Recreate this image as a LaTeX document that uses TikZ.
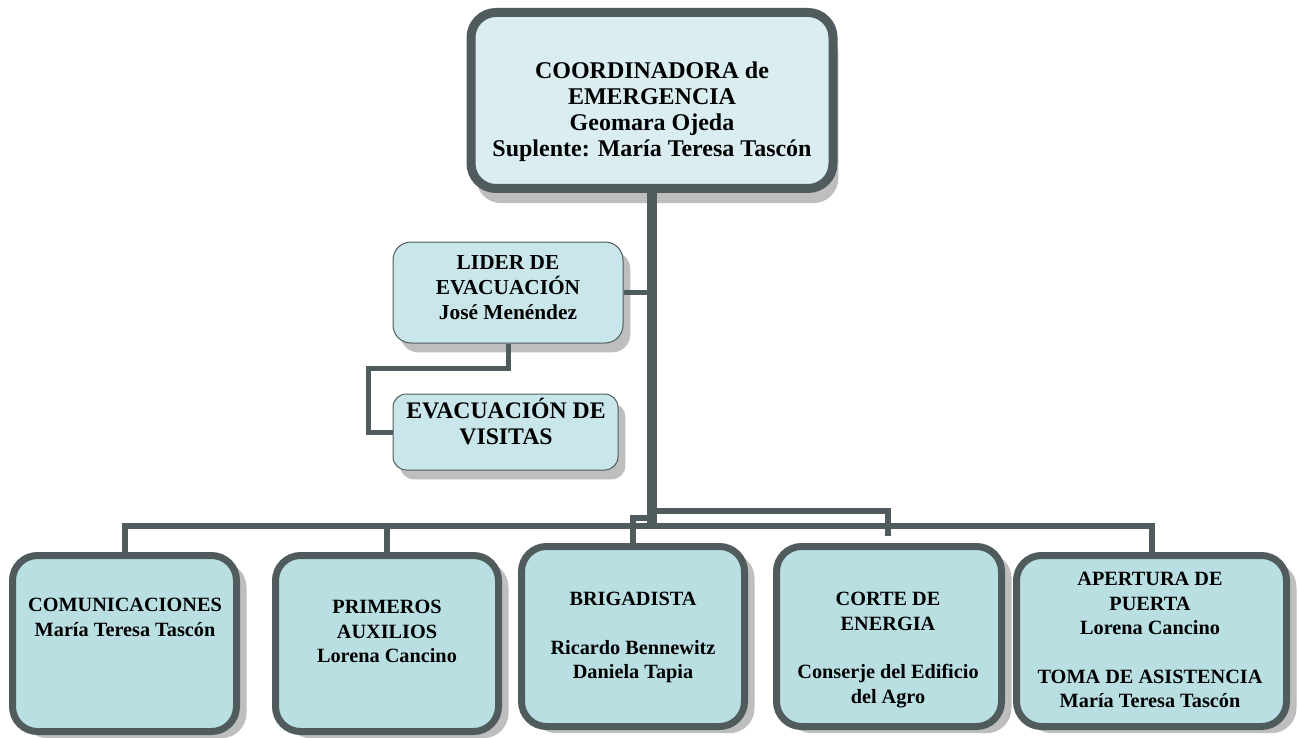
\documentclass[tikz,border=0pt]{standalone}
\usepackage{fontspec}
\setmainfont{Liberation Serif}
\usetikzlibrary{positioning, shadows}

\definecolor{borde}{HTML}{4F5B5C}
\definecolor{celeste}{HTML}{DAEEF1}
\definecolor{cargofill}{HTML}{B9DFE3}
\definecolor{liderfill}{HTML}{C9E6EA}
\definecolor{sombra}{HTML}{BEBEBE}

\tikzset{
    jefe/.style={draw=borde, fill=celeste, line width=6.75pt, rounded corners=18.75pt,
        inner sep=0pt, minimum width=271.5pt, minimum height=132pt,
        drop shadow={shadow xshift=4pt, shadow yshift=-11pt, fill=sombra, opacity=1}},
    cargo/.style={draw=borde, fill=cargofill, line width=5.25pt, rounded corners=18.75pt,
        inner sep=0pt, minimum width=168pt, minimum height=132pt,
        drop shadow={shadow xshift=7.5pt, shadow yshift=-5pt, fill=sombra, opacity=1}},
    lider/.style={draw=borde, fill=liderfill, line width=0.75pt, rounded corners=13.5pt,
        inner sep=0pt, minimum width=172.5pt, minimum height=75.75pt,
        drop shadow={shadow xshift=5.5pt, shadow yshift=-7pt, fill=sombra, opacity=1}},
    jefetxt/.style={font=\fontsize{18pt}{19.5pt}\selectfont\bfseries, align=center, inner sep=0pt, anchor=north},
    lidertxt/.style={font=\fontsize{16pt}{19pt}\selectfont\bfseries, align=center, inner sep=0pt, anchor=north},
    visitatxt/.style={font=\fontsize{17.8pt}{19.5pt}\selectfont\bfseries, align=center, inner sep=0pt, anchor=north},
    cargotxt/.style={font=\fontsize{15.2pt}{18.4pt}\selectfont\bfseries, align=center, inner sep=0pt, anchor=north},
    tronco/.style={draw=borde, line width=7.5pt},
    bus/.style={draw=borde, line width=4.5pt},
    rama/.style={draw=borde, line width=3.75pt}
}

\begin{document}
\begin{tikzpicture}[x=0.75pt, y=-0.75pt]
        \useasboundingbox (0,0) rectangle (1299,738);
        % cajas
        \node[jefe] (coord) at (652,100.5) {};
        \node[lider] (lider) at (508,292.5) {};
        \node[lider, minimum width=168.75pt, minimum height=57pt, rounded corners=10pt] (visitas) at (505.5,432) {};
        \node[cargo] (comun) at (124.5,643.5) {};
        \node[cargo, minimum width=167.25pt] (auxil) at (387,643.5) {};
        \node[cargo, minimum width=167.25pt, minimum height=135pt] (briga) at (633,636.5) {};
        \node[cargo, minimum width=168.75pt, minimum height=135pt] (corte) at (889,636.5) {};
        \node[cargo, minimum width=202.5pt, minimum height=128.25pt] (puerta) at (1151.5,641) {};
        % textos
        \node[jefetxt] (coordT) at (652,62) {COORDINADORA de\\EMERGENCIA\\Geomara Ojeda\\Suplente: María Teresa Tascón};
        \node[lidertxt] (liderT) at (508,255) {LIDER DE\\EVACUACIÓN\\José Menéndez};
        \node[visitatxt] (visitasT) at (506,398) {EVACUACIÓN DE\\VISITAS};
        \node[cargotxt] (comunT) at (125,598) {COMUNICACIONES\\María Teresa Tascón};
        \node[cargotxt] (auxilT) at (387,600) {PRIMEROS\\AUXILIOS\\Lorena Cancino};
        \node[cargotxt] (brigaT) at (633,592) {BRIGADISTA\\[18pt]Ricardo Bennewitz\\Daniela Tapia};
        \node[cargotxt] (corteT) at (888,592) {CORTE DE\\ENERGIA\\[18pt]Conserje del Edificio\\del Agro};
        \node[cargotxt] (puertaT) at (1150,572) {APERTURA DE\\PUERTA\\Lorena Cancino\\[18pt]TOMA DE ASISTENCIA\\María Teresa Tascón};
        % conectores
        \coordinate (pie) at (652,529);
        \coordinate (barra) at (652,526);
        \coordinate (brazo) at (652,511);
        \coordinate (codo) at (652,518);
        \coordinate (corteFin) at (888,536);
        \coordinate (quiebre) at (368,368);
        \draw[bus] (comun.north) |- (puerta.north |- barra) -- (puerta.north);
        \draw[bus] (auxil.north) -- (auxil.north |- barra);
        \draw[bus] (brazo) -| (corteFin);
        \draw[bus] (briga.north) |- (codo);
        \draw[rama] (lider.east) -- (lider.east -| pie);
        \draw[rama] (lider.south) |- (quiebre) |- (visitas.west);
        \draw[tronco] (coord.south) -- (pie);
\end{tikzpicture}
\end{document}
